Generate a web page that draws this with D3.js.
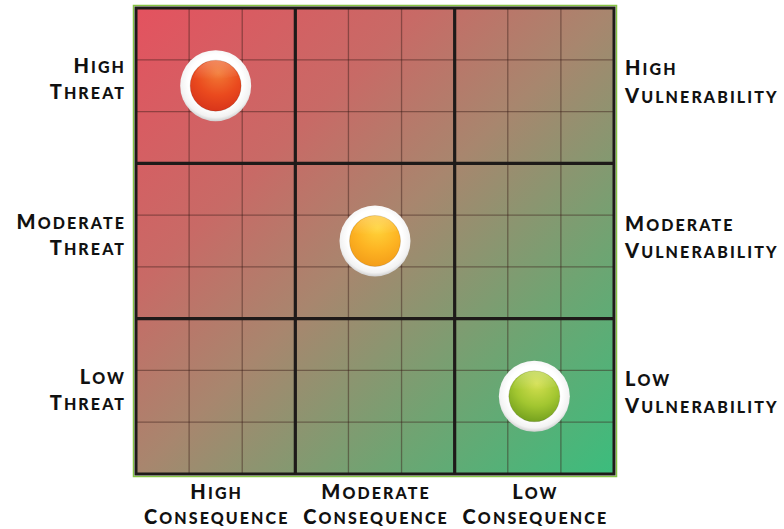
<!DOCTYPE html>
<html>
<head>
<meta charset="utf-8">
<script src="https://cdn.jsdelivr.net/npm/d3@7"></script>
<style>
  body { margin: 0; background: #fff; }
  svg { display: block; }
</style>
</head>
<body>
<svg id="chart" width="784" height="529"></svg>
<script>
// levels for the rows (threat) and columns (consequence)
const threatLevels = ["High", "Moderate", "Low"];
const consequenceLevels = ["High", "Moderate", "Low"];
const vulnerabilityLevels = ["High", "Moderate", "Low"];

// the three status markers
const markerThreat = ["High", "Moderate", "Low"];
const markerConsequence = ["High", "Moderate", "Low"];
const markerColor = ["red", "yellow", "green"];

const subDivisions = 9;

let svg = d3.select("#chart");

let x = d3.scaleBand().domain(consequenceLevels).range([136, 614]);
let y = d3.scaleBand().domain(threatLevels).range([8, 474]);
let xMinor = d3.scaleLinear().domain([0, subDivisions]).range([136, 614]);
let yMinor = d3.scaleLinear().domain([0, subDivisions]).range([8, 474]);

let defs = svg.append("defs");

// background gradient, red top-left to green bottom-right
let bg = defs.append("linearGradient")
    .attr("id", "bg")
    .attr("x1", "0%").attr("y1", "0%")
    .attr("x2", "100%").attr("y2", "100%");
bg.append("stop").attr("offset", "0%").attr("stop-color", "#e4525f");
bg.append("stop").attr("offset", "30%").attr("stop-color", "#c86a66");
bg.append("stop").attr("offset", "50%").attr("stop-color", "#a8866e");
bg.append("stop").attr("offset", "75%").attr("stop-color", "#6fa472");
bg.append("stop").attr("offset", "100%").attr("stop-color", "#3bbd7d");

// white ring
let ring = defs.append("radialGradient").attr("id", "ring")
    .attr("cx", "50%").attr("cy", "45%").attr("r", "55%");
ring.append("stop").attr("offset", "70%").attr("stop-color", "#ffffff");
ring.append("stop").attr("offset", "90%").attr("stop-color", "#f2f2f2");
ring.append("stop").attr("offset", "100%").attr("stop-color", "#d0d0d0");

const ballColors = {
    red:    ["#f27a35", "#ea4a1e", "#d6321a"],
    yellow: ["#ffd43a", "#fdb322", "#f29a18"],
    green:  ["#d4e050", "#a2c630", "#6e9c1c"]
};
Object.keys(ballColors).forEach(function(k) {
    let g = defs.append("radialGradient").attr("id", "ball-" + k)
        .attr("cx", "55%").attr("cy", "25%").attr("r", "80%");
    g.append("stop").attr("offset", "0%").attr("stop-color", ballColors[k][0]);
    g.append("stop").attr("offset", "55%").attr("stop-color", ballColors[k][1]);
    g.append("stop").attr("offset", "100%").attr("stop-color", ballColors[k][2]);
});
let gloss = defs.append("linearGradient").attr("id", "gloss")
    .attr("x1", "0").attr("y1", "0").attr("x2", "0").attr("y2", "1");
gloss.append("stop").attr("offset", "0%").attr("stop-color", "#fff").attr("stop-opacity", 0.25);
gloss.append("stop").attr("offset", "100%").attr("stop-color", "#fff").attr("stop-opacity", 0);

// outer green frame
svg.append("rect")
    .attr("x", x.range()[0] - 2.5)
    .attr("y", y.range()[0] - 2.5)
    .attr("width", x.range()[1] - x.range()[0] + 5)
    .attr("height", y.range()[1] - y.range()[0] + 5)
    .attr("fill", "none")
    .attr("stroke", "#86c443")
    .attr("stroke-width", 1.5);

// background
svg.append("rect")
    .attr("x", x.range()[0])
    .attr("y", y.range()[0])
    .attr("width", x.range()[1] - x.range()[0])
    .attr("height", y.range()[1] - y.range()[0])
    .attr("fill", "url(#bg)");

// minor grid lines
let minor = d3.range(1, subDivisions).filter(i => i % 3 != 0);
svg.append("g").selectAll("line.vm")
    .data(minor)
    .enter().append("line")
        .attr("x1", d => xMinor(d)).attr("x2", d => xMinor(d))
        .attr("y1", y.range()[0]).attr("y2", y.range()[1])
        .attr("stroke", "#3a1c18").attr("stroke-opacity", 0.45)
        .attr("stroke-width", 1.3);
svg.append("g").selectAll("line.hm")
    .data(minor)
    .enter().append("line")
        .attr("y1", d => yMinor(d)).attr("y2", d => yMinor(d))
        .attr("x1", x.range()[0]).attr("x2", x.range()[1])
        .attr("stroke", "#3a1c18").attr("stroke-opacity", 0.45)
        .attr("stroke-width", 1.3);

// major grid lines
svg.append("g").selectAll("line")
    .data(consequenceLevels.slice(1))
    .enter().append("line")
        .attr("x1", d => x(d)).attr("x2", d => x(d))
        .attr("y1", y.range()[0]).attr("y2", y.range()[1])
        .attr("stroke", "#1e1a19").attr("stroke-width", 3.2);
svg.append("g").selectAll("line")
    .data(threatLevels.slice(1))
    .enter().append("line")
        .attr("y1", d => y(d)).attr("y2", d => y(d))
        .attr("x1", x.range()[0]).attr("x2", x.range()[1])
        .attr("stroke", "#1e1a19").attr("stroke-width", 3.2);

// dark border
svg.append("rect")
    .attr("x", x.range()[0])
    .attr("y", y.range()[0])
    .attr("width", x.range()[1] - x.range()[0])
    .attr("height", y.range()[1] - y.range()[0])
    .attr("fill", "none")
    .attr("stroke", "#1e1a19")
    .attr("stroke-width", 3);

// markers
let markers = markerThreat.map((t, i) => ({ threat: t, consequence: markerConsequence[i], color: markerColor[i] }));
let m = svg.append("g").selectAll("g")
    .data(markers)
    .enter().append("g")
        .attr("transform", d => `translate(${x(d.consequence) + x.bandwidth() / 2},${y(d.threat) + y.bandwidth() / 2})`);
m.append("circle").attr("r", 35.5).attr("fill", "url(#ring)");
m.append("circle").attr("r", 25.5).attr("fill", d => `url(#ball-${d.color})`)
    .attr("stroke", "#000").attr("stroke-opacity", 0.12).attr("stroke-width", 1);
m.append("path")
    .attr("d", "M -22,-8 A 23,23 0 0 1 22,-10 Q 0,-4 -22,-8 Z")
    .attr("fill", "url(#gloss)");

// small caps labels
const spacing = 2.1;
function smallCaps(textSel, word) {
    textSel.append("tspan").style("font-size", "20px").text(word[0].toUpperCase());
    textSel.append("tspan").style("font-size", "16px").text(word.slice(1).toUpperCase());
}
function label(xPos, yPos, anchor, words) {
    let t = svg.append("text")
        .attr("x", xPos).attr("y", yPos)
        .attr("text-anchor", anchor)
        .style("font-family", "Lato, sans-serif")
        .style("font-weight", "900")
        .style("letter-spacing", spacing + "px")
        .style("fill", "#111");
    words.forEach(function(w, i) {
        if (i > 0) t.append("tspan").style("font-size", "16px").text(" ");
        smallCaps(t, w);
    });
    // keep the anchor on the glyphs, not on the trailing letter space
    if (anchor == "end") t.attr("dx", spacing);
    if (anchor == "middle") t.attr("dx", spacing / 2);
}

threatLevels.forEach(function(level) {
    let cy = y(level) + y.bandwidth() / 2;
    label(124, cy - 12.5, "end", [level]);
    label(124, cy + 13.5, "end", ["Threat"]);
});
vulnerabilityLevels.forEach(function(level, i) {
    let cy = y(threatLevels[i]) + y.bandwidth() / 2;
    label(625, cy - 10.5, "start", [level]);
    label(625, cy + 17, "start", ["Vulnerability"]);
});
consequenceLevels.forEach(function(level) {
    let cx = x(level) + x.bandwidth() / 2;
    label(cx, 499, "middle", [level]);
    label(cx, 524, "middle", ["Consequence"]);
});
</script>
</body>
</html>
